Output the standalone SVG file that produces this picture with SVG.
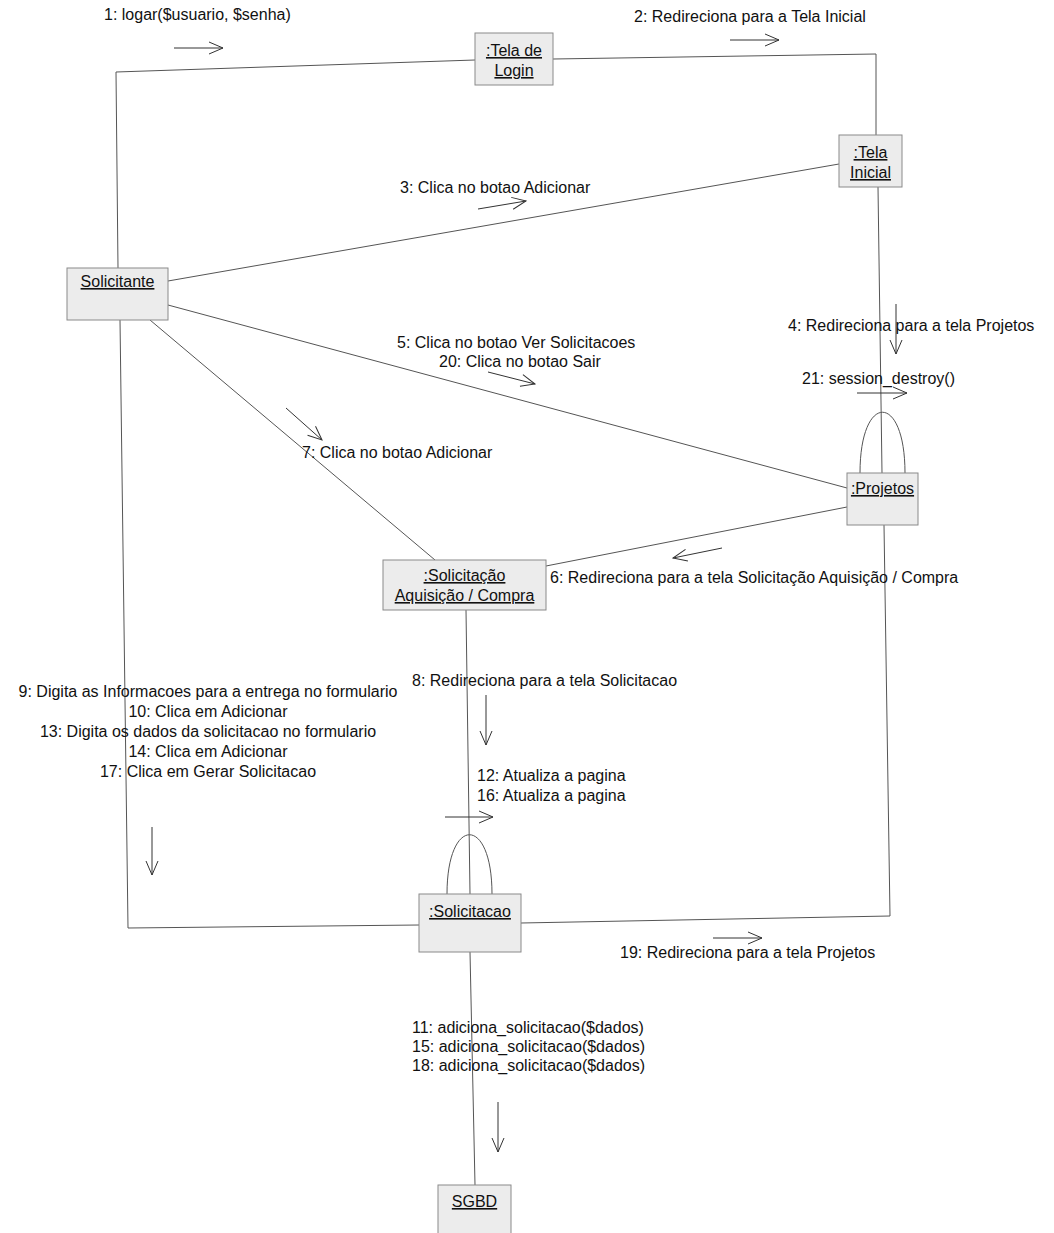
<svg xmlns="http://www.w3.org/2000/svg" width="1054" height="1233" viewBox="0 0 1054 1233">
<style>
text{font-family:"Liberation Sans",Arial,sans-serif;font-size:16px;fill:#111}
.n{text-anchor:middle;text-decoration:underline}
.m{text-anchor:middle}
.box{fill:#ececec;stroke:#8a8a8a;stroke-width:1}
.ln{fill:none;stroke:#555;stroke-width:1}
.ar{fill:none;stroke:#333;stroke-width:1;marker-end:url(#ah)}
</style>
<defs>
<marker id="ah" markerUnits="userSpaceOnUse" markerWidth="16" markerHeight="14" refX="15" refY="7" orient="auto">
<path d="M1,1 L15,7 L1,13" fill="none" stroke="#333" stroke-width="1"/>
</marker>
</defs>
<rect width="1054" height="1233" fill="#fff"/>
<g id="connectors">
<polyline class="ln" points="118,268 116,72 475,60"/>
<polyline class="ln" points="553,59 876,54 876,135"/>
<line class="ln" x1="168" y1="281" x2="839" y2="164"/>
<line class="ln" x1="168" y1="305" x2="847" y2="488"/>
<line class="ln" x1="150" y1="320" x2="435" y2="560"/>
<line class="ln" x1="546" y1="566" x2="847" y2="507"/>
<line class="ln" x1="878" y1="187" x2="882" y2="473"/>
<polyline class="ln" points="884,525 890,916 521,923"/>
<polyline class="ln" points="120,320 128,928 419,925"/>
<line class="ln" x1="466" y1="610" x2="470" y2="894"/>
<line class="ln" x1="470" y1="952" x2="475" y2="1185"/>
<path class="ln" d="M860,473 C860,392 905,392 905,473"/>
<path class="ln" d="M447,894 C447,815 492,815 492,894"/>
<line class="ar" x1="174" y1="48" x2="223" y2="48"/>
<line class="ar" x1="730" y1="40" x2="779" y2="40"/>
<line class="ar" x1="478" y1="209" x2="526" y2="201"/>
<line class="ar" x1="896" y1="304" x2="896" y2="354"/>
<line class="ar" x1="488" y1="372" x2="535" y2="384"/>
<line class="ar" x1="857" y1="393" x2="907" y2="393"/>
<line class="ar" x1="286" y1="408" x2="322" y2="440"/>
<line class="ar" x1="722" y1="548" x2="673" y2="558"/>
<line class="ar" x1="486" y1="695" x2="486" y2="745"/>
<line class="ar" x1="152" y1="827" x2="152" y2="875"/>
<line class="ar" x1="445" y1="817" x2="493" y2="817"/>
<line class="ar" x1="713" y1="938" x2="762" y2="938"/>
<line class="ar" x1="498" y1="1102" x2="498" y2="1152"/>
</g>
<g id="labels">
<text x="104" y="20">1: logar($usuario, $senha)</text>
<text x="634" y="22">2: Redireciona para a Tela Inicial</text>
<text x="400" y="193">3: Clica no botao Adicionar</text>
<text x="788" y="331">4: Redireciona para a tela Projetos</text>
<text x="397" y="348">5: Clica no botao Ver Solicitacoes</text>
<text x="439" y="367">20: Clica no botao Sair</text>
<text x="802" y="384">21: session_destroy()</text>
<text x="302" y="458">7: Clica no botao Adicionar</text>
<text x="550" y="583">6: Redireciona para a tela Solicitação Aquisição / Compra</text>
<text x="412" y="686">8: Redireciona para a tela Solicitacao</text>
<text class="m" x="208" y="697">9: Digita as Informacoes para a entrega no formulario</text>
<text class="m" x="208" y="717">10: Clica em Adicionar</text>
<text class="m" x="208" y="737">13: Digita os dados da solicitacao no formulario</text>
<text class="m" x="208" y="757">14: Clica em Adicionar</text>
<text class="m" x="208" y="777">17: Clica em Gerar Solicitacao</text>
<text x="477" y="781">12: Atualiza a pagina</text>
<text x="477" y="801">16: Atualiza a pagina</text>
<text x="620" y="958">19: Redireciona para a tela Projetos</text>
<text x="412" y="1033">11: adiciona_solicitacao($dados)</text>
<text x="412" y="1052">15: adiciona_solicitacao($dados)</text>
<text x="412" y="1071">18: adiciona_solicitacao($dados)</text>
</g>
<g id="node-login">
<rect class="box" x="475" y="33" width="78" height="52"/>
<text class="n" x="514" y="56">:Tela de</text>
<text class="n" x="514" y="76">Login</text>
</g>
<g id="node-inicial">
<rect class="box" x="839" y="135" width="63" height="52"/>
<text class="n" x="870.5" y="158">:Tela</text>
<text class="n" x="870.5" y="178">Inicial</text>
</g>
<g id="node-solicitante">
<rect class="box" x="67" y="268" width="101" height="52"/>
<text class="n" x="117.5" y="287">Solicitante</text>
</g>
<g id="node-projetos">
<rect class="box" x="847" y="473" width="71" height="52"/>
<text class="n" x="882.5" y="494">:Projetos</text>
</g>
<g id="node-solic-aquisicao">
<rect class="box" x="383" y="560" width="163" height="50"/>
<text class="n" x="464.5" y="581">:Solicitação</text>
<text class="n" x="464.5" y="601">Aquisição / Compra</text>
</g>
<g id="node-solicitacao">
<rect class="box" x="419" y="894" width="102" height="58"/>
<text class="n" x="470" y="917">:Solicitacao</text>
</g>
<g id="node-sgbd">
<rect class="box" x="438" y="1185" width="73" height="60"/>
<text class="n" x="474.5" y="1207">SGBD</text>
</g>
</svg>
